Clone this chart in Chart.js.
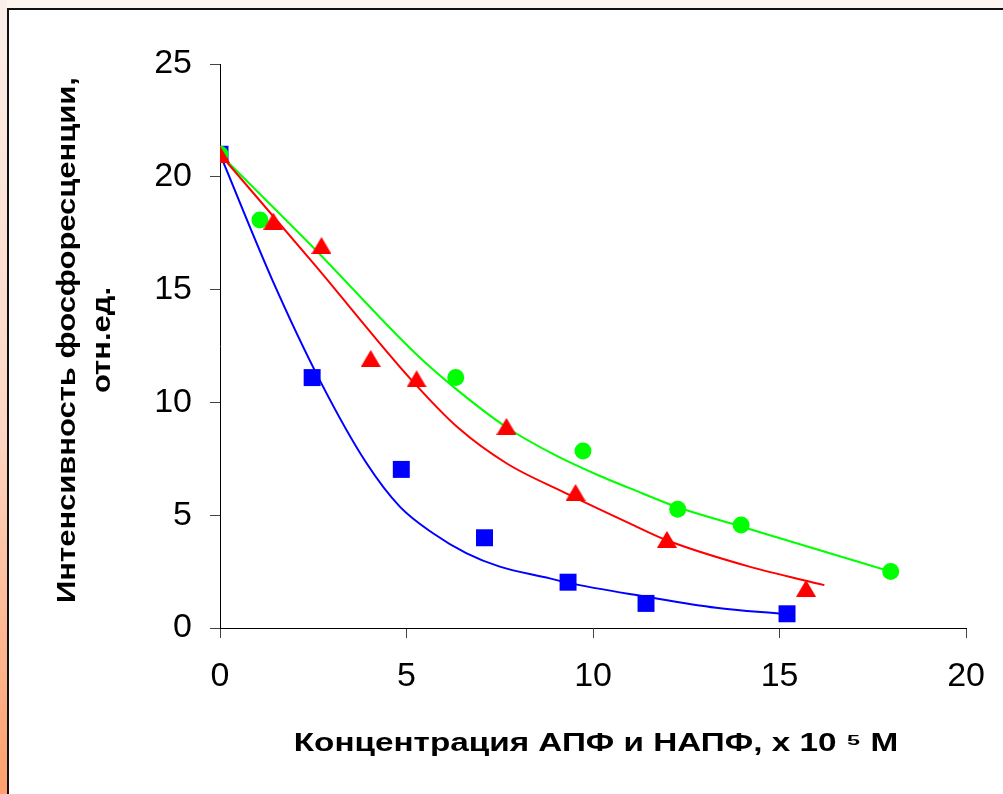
<!DOCTYPE html>
<html>
<head>
<meta charset="utf-8">
<script src="https://cdn.jsdelivr.net/npm/chart.js@4/dist/chart.umd.min.js"></script>
<style>
    body { margin: 0; width: 1003px; height: 794px; background: #fdf5f0; position: relative; overflow: hidden; }
    #strip { position: absolute; left: 0; top: 0; width: 7px; height: 794px; background: linear-gradient(#fbefea, #fdd6c2 55%, #ff9f6c); }
    #frame { position: absolute; left: 7px; top: 8px; width: 1010px; height: 800px; background: #fff; border-left: 2px solid #111; border-top: 2px solid #111; }
    #chart { position: absolute; left: 0; top: 0; }
</style>
</head>
<body>
<div id="strip"></div>
<div id="frame"></div>
<canvas id="chart" width="1003" height="794"></canvas>
<script>
// измеренные точки
const squareX   = [0, 2.47, 4.86, 7.09, 9.33, 11.42, 15.2];
const squareY   = [21.0, 11.1, 7.03, 4.0, 2.03, 1.09, 0.63];
const triangleX = [0, 1.43, 2.72, 4.04, 5.27, 7.68, 9.53, 11.98, 15.71];
const triangleY = [21.0, 18.04, 16.96, 11.95, 11.05, 8.94, 6.01, 3.93, 1.76];
const circleX   = [0, 1.07, 6.32, 9.73, 12.27, 13.97, 17.98];
const circleY   = [21.0, 18.09, 11.1, 7.85, 5.26, 4.57, 2.5];

// аппроксимирующие кривые
const squareFitX   = [0, 1.41, 2.7, 3.93, 4.82, 5.7, 6.6, 7.5, 8.84, 9.33, 11.42, 13.3, 15.1];
const squareFitY   = [21.0, 15.4, 10.9, 7.3, 5.38, 4.21, 3.32, 2.72, 2.2, 2.0, 1.39, 0.9, 0.62];
const triangleFitX = [0, 2.54, 5.13, 6.4, 7.7, 9.28, 10.98, 11.96, 14.19, 16.2];
const triangleFitY = [21.0, 16.1, 11.0, 8.85, 7.28, 5.97, 4.64, 3.9, 2.72, 1.9];
const circleFitX   = [0, 2.54, 5.22, 6.25, 7.68, 9.0, 10.17, 10.98, 12.27, 13.97, 15.97, 17.98];
const circleFitY   = [21.0, 16.8, 12.2, 10.7, 8.9, 7.65, 6.75, 6.2, 5.35, 4.5, 3.5, 2.5];

const xTicks = [0, 5, 10, 15, 20];
const yTicks = [0, 5, 10, 15, 20, 25];

const xTitle = "Концентрация АПФ и НАПФ, х 10 \u2075 М";
const yTitle = ["Интенсивность фосфоресценции,", "отн.ед."];

function toPoints(xs, ys) {
    return xs.map((x, i) => ({ x: x, y: ys[i] }));
}

// треугольник, центрированный по габариту
function triangleMarker(color, w, h) {
    const c = document.createElement("canvas");
    c.width = w;
    c.height = h;
    const g = c.getContext("2d");
    g.fillStyle = color;
    g.beginPath();
    g.moveTo(w / 2, 0);
    g.lineTo(w, h);
    g.lineTo(0, h);
    g.closePath();
    g.fill();
    return c;
}

// растянутая подпись оси (шрифт шире обычного)
function stretchTitle(scale, sx, sy, dx, dy) {
    if (scale._stretched) return;
    scale._stretched = true;
    const base = scale.drawTitle;
    scale.drawTitle = function () {
        const ctx = this.ctx;
        const cx = (this.left + this.right) / 2;
        const cy = (this.top + this.bottom) / 2;
        ctx.save();
        ctx.translate(cx + dx, cy + dy);
        ctx.scale(sx, sy);
        ctx.translate(-cx, -cy);
        base.call(this);
        ctx.restore();
    };
}

function markers(xs, ys, color, style, radius, order) {
    return {
        data: toPoints(xs, ys),
        showLine: false,
        pointStyle: style,
        pointRadius: radius,
        pointBackgroundColor: color,
        pointBorderWidth: 0,
        pointBorderColor: color,
        order: order
    };
}

function curve(xs, ys, color) {
    return {
        data: toPoints(xs, ys),
        showLine: true,
        borderColor: color,
        borderWidth: 2,
        pointRadius: 0,
        cubicInterpolationMode: "monotone",
        fill: false,
        order: 10
    };
}

const tickFont = { family: "'Liberation Sans', Arial, sans-serif", size: 34 };
const titleFont = { family: "'Liberation Sans', Arial, sans-serif", size: 26, weight: "bold" };

new Chart(document.getElementById("chart"), {
    type: "scatter",
    data: {
        datasets: [
            curve(squareFitX, squareFitY, "#0000ff"),
            curve(triangleFitX, triangleFitY, "#ff0000"),
            curve(circleFitX, circleFitY, "#00ff00"),
            markers(squareX, squareY, "#0000ff", "rect", 12, 3),
            markers(circleX, circleY, "#00ff00", "circle", 8.5, 2),
            markers(triangleX, triangleY, "#ff0000", triangleMarker("#ff0000", 20, 17), 10, 1)
        ]
    },
    options: {
        responsive: false,
        animation: false,
        events: [],
        layout: { padding: { left: 0, right: 36, top: 64, bottom: 0 } },
        plugins: { legend: { display: false }, tooltip: { enabled: false } },
        scales: {
            x: {
                type: "linear",
                min: 0,
                max: 20,
                afterBuildTicks: (s) => { s.ticks = xTicks.map(v => ({ value: v })); },
                afterFit: (s) => { s.height = 166; stretchTitle(s, 1.28, 1, 3, 0); },
                grid: { drawOnChartArea: false, drawTicks: true, tickLength: 10, color: "#444" },
                border: { display: true, color: "#000", width: 1 },
                ticks: { color: "#000", font: tickFont, padding: 18, maxRotation: 0 },
                title: { display: true, text: xTitle, color: "#000", font: titleFont, padding: { top: 0, bottom: 35 } }
            },
            y: {
                type: "linear",
                min: 0,
                max: 25,
                afterBuildTicks: (s) => { s.ticks = yTicks.map(v => ({ value: v })); },
                afterFit: (s) => { s.width = 220; stretchTitle(s, 1, 1.19, 0, -6); },
                grid: { drawOnChartArea: false, drawTicks: true, tickLength: 10, color: "#444" },
                border: { display: true, color: "#000", width: 1 },
                ticks: { color: "#000", font: tickFont, padding: 18 },
                title: { display: true, text: yTitle, color: "#000", font: Object.assign({ lineHeight: 1.35 }, titleFont), padding: { top: 50, bottom: 0 } }
            }
        }
    }
});
</script>
</body>
</html>
